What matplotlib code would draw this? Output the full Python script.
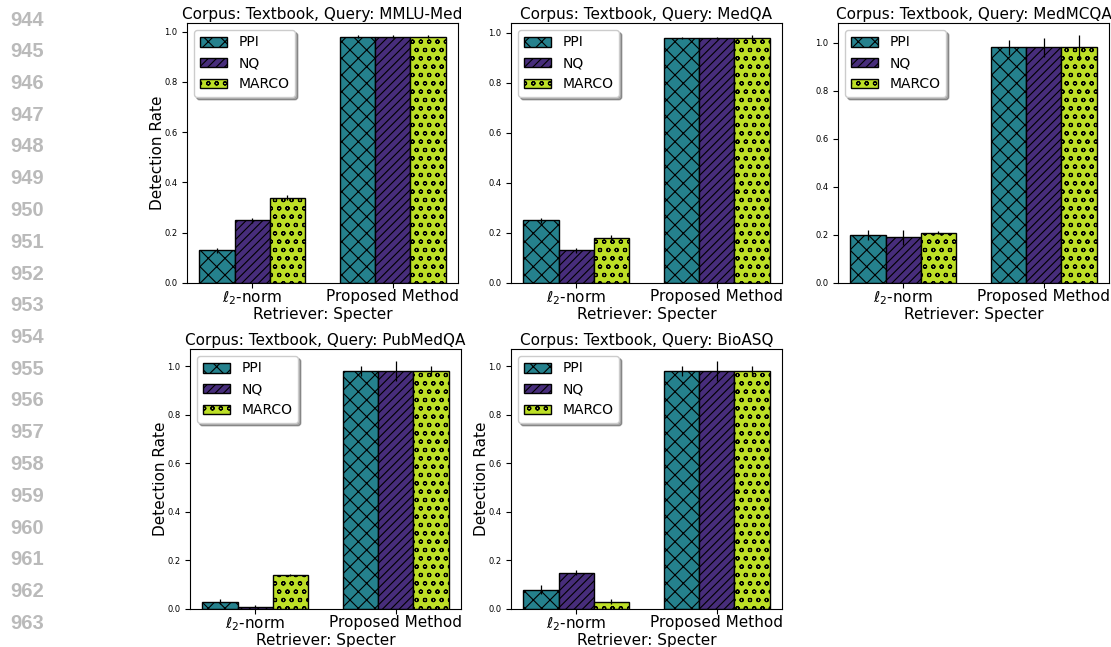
import numpy as np
import matplotlib
matplotlib.use("Agg")
import matplotlib.pyplot as plt

# ---- data -------------------------------------------------------------------
methods = [r"$\ell_2$-norm", "Proposed Method"]
series = ["PPI", "NQ", "MARCO"]
queries = ["MMLU-Med", "MedQA", "MedMCQA", "PubMedQA", "BioASQ"]

# detection rate per query: rows = series (PPI, NQ, MARCO), cols = methods
mmlu_mean = [[0.13, 0.98], [0.25, 0.98], [0.34, 0.98]]
mmlu_err = [[0.01, 0.005], [0.01, 0.005], [0.01, 0.005]]
medqa_mean = [[0.25, 0.98], [0.13, 0.98], [0.18, 0.98]]
medqa_err = [[0.01, 0.005], [0.01, 0.005], [0.01, 0.01]]
medmcqa_mean = [[0.20, 0.98], [0.19, 0.98], [0.21, 0.98]]
medmcqa_err = [[0.02, 0.03], [0.03, 0.04], [0.005, 0.05]]
pubmedqa_mean = [[0.03, 0.98], [0.01, 0.98], [0.14, 0.98]]
pubmedqa_err = [[0.01, 0.02], [0.005, 0.04], [0.005, 0.02]]
bioasq_mean = [[0.08, 0.98], [0.15, 0.98], [0.03, 0.98]]
bioasq_err = [[0.02, 0.02], [0.01, 0.04], [0.01, 0.02]]

line_numbers = list(range(944, 964))

colors = ["#25818d", "#472d7b", "#bddf26"]
hatches = ["xx", "////", "oo"]

panels = [
    (mmlu_mean, mmlu_err, 187, 23, True),
    (medqa_mean, medqa_err, 511, 23, False),
    (medmcqa_mean, medmcqa_err, 838, 23, False),
    (pubmedqa_mean, pubmedqa_err, 190, 349, True),
    (bioasq_mean, bioasq_err, 511, 349, True),
]

W, H = 1111, 647
fig = plt.figure(figsize=(W / 100, H / 100), dpi=100)
plt.rcParams["hatch.linewidth"] = 0.8

for i, n in enumerate(line_numbers):
    fig.text(10 / W, 1 - (20 + i * 31.75) / H, str(n), ha="left", va="center",
             fontsize=14.5, fontweight="bold", color="#bababa",
             family="Liberation Sans")

x = np.arange(len(methods))
width = 0.25
for (mean, err, px, py, ylab), q in zip(panels, queries):
    ax = fig.add_axes([px / W, 1 - (py + 260) / H, 271 / W, 260 / H])
    for s, name in enumerate(series):
        ax.bar(x + (s - 1) * width, mean[s], width, yerr=err[s],
               color=colors[s], edgecolor="black", linewidth=1,
               hatch=hatches[s], label=name,
               error_kw=dict(ecolor="black", elinewidth=0.9, capsize=0))
    ax.set_xticks(x)
    ax.set_xticklabels(methods, fontsize=11)
    ax.tick_params(axis="x", pad=1)
    ax.tick_params(axis="y", labelsize=6)
    ax.set_xlabel("Retriever: Specter", fontsize=11, labelpad=0)
    if ylab:
        ax.set_ylabel("Detection Rate", fontsize=11, labelpad=-1)
    ax.set_title(f"Corpus: Textbook, Query: {q}", fontsize=11, pad=3)
    ax.legend(loc="upper left", fontsize=10, shadow=True)

fig.savefig("out.png", dpi=100)
plt.close(fig)
